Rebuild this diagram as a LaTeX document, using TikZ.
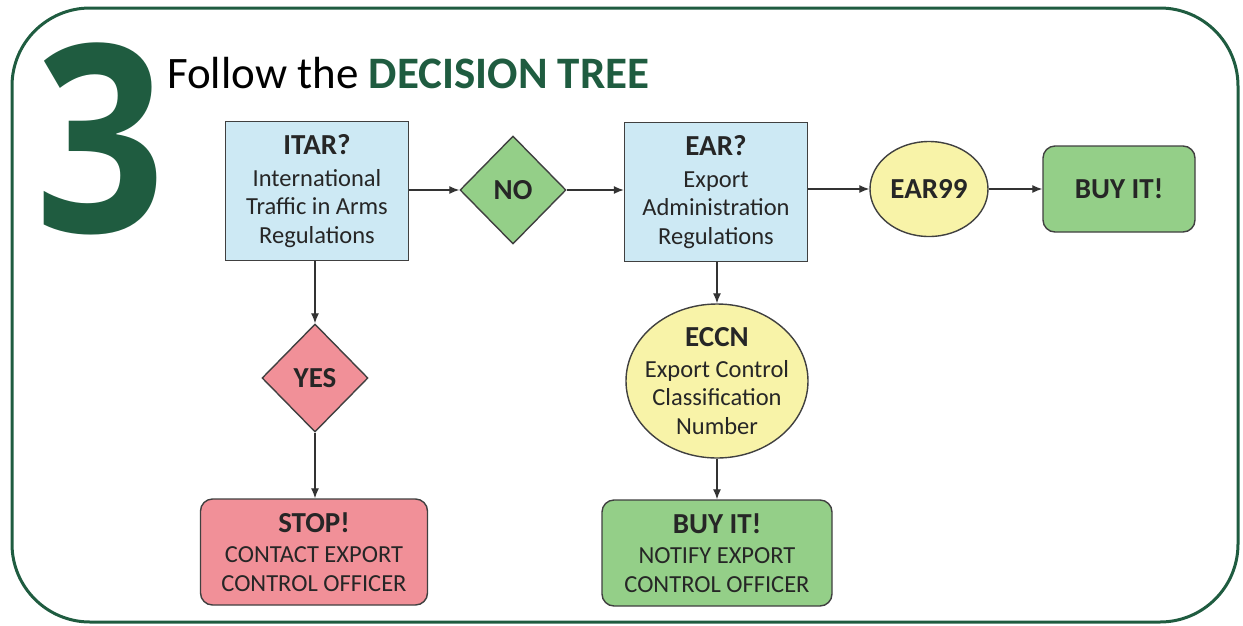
\documentclass[tikz,border=0pt]{standalone}
\usepackage{fontspec}
\setmainfont{Carlito}
\newfontfamily\bigfont{Open Sans}
\usetikzlibrary{shapes.geometric,arrows.meta}
\definecolor{dkgreen}{HTML}{1F5C40}
\definecolor{lblue}{HTML}{CDE9F4}
\definecolor{lgreen}{HTML}{94CF88}
\definecolor{lyellow}{HTML}{F8F3A8}
\definecolor{lpink}{HTML}{F19098}
\definecolor{edge}{HTML}{404040}
\tikzset{
  base/.style={draw=edge, line width=1.4pt, align=center, text=black!85, inner sep=2pt,
    font=\fontsize{24.5}{28.5}\selectfont},
  sqbox/.style={base, rectangle, fill=lblue, minimum width=183pt, minimum height=139pt},
  rbox/.style={base, rectangle, rounded corners=12pt, minimum width=227pt, minimum height=106pt},
  dia/.style={base, diamond, minimum width=106pt, minimum height=108pt, inner sep=0pt},
  circ/.style={base, ellipse, fill=lyellow, inner sep=0pt},
  conn/.style={draw=black!80, line width=1.3pt, -{Latex[length=10pt,width=8pt]}},
}
\newcommand{\hd}[1]{{\fontsize{29}{29}\selectfont\bfseries #1}}
\begin{document}
\begin{tikzpicture}[x=1pt,y=-1pt]
\useasboundingbox (0,0) rectangle (1243,625);
\draw[dkgreen, line width=3pt, rounded corners=78pt] (12,8) rectangle (1238,622);
\node[text=dkgreen, font=\bigfont\fontsize{262}{262}\selectfont\bfseries, inner sep=0pt, anchor=base, xscale=0.87] (three) at (100.5,232) {3};
\node[anchor=base west, inner sep=0pt, font=\fontsize{45}{45}\selectfont] (title) at (167,88) {Follow the \textcolor{dkgreen}{\bfseries DECISION TREE}};

\node[sqbox] (itar) at (317,191) {\hd{ITAR?}\\[3pt]International\\Traffic in Arms\\Regulations};
\node[dia, fill=lgreen] (no) at (513,190) {\hd{NO}};
\node[sqbox] (ear) at (716,192) {\hd{EAR?}\\[3pt]Export\\Administration\\Regulations};
\node[circ, minimum width=118pt, minimum height=95pt] (ear99) at (929,189) {\hd{EAR99}};
\node[base, rectangle, rounded corners=12pt, fill=lgreen, minimum width=152pt, minimum height=86pt] (buy1) at (1119,189) {\hd{BUY IT!}};
\node[dia, fill=lpink] (yes) at (315,378) {\hd{YES}};
\node[rbox, fill=lpink] (stop) at (314,552) {\hd{STOP!}\\[2pt]CONTACT EXPORT\\CONTROL OFFICER};
\node[circ, inner sep=-9pt, minimum width=182pt, minimum height=154pt] (eccn) at (717,381) {\hd{ECCN}\\[2pt]Export Control\\Classification\\Number};
\node[rbox, fill=lgreen, minimum width=230pt] (buy2) at (717,553) {\hd{BUY IT!}\\[2pt]NOTIFY EXPORT\\CONTROL OFFICER};

\draw[conn] (itar.east |- no.west) -- (no.west);
\draw[conn] (no.east) -- (ear.west |- no.east);
\draw[conn] (ear.east |- ear99.west) -- (ear99.west);
\draw[conn] (ear99.east) -- (buy1.west |- ear99.east);
\draw[conn] (itar.south -| yes.north) -- (yes.north);
\draw[conn] (yes.south) -- (stop.north -| yes.south);
\draw[conn] (ear.south -| eccn.north) -- (eccn.north);
\draw[conn] (eccn.south) -- (buy2.north -| eccn.south);
\end{tikzpicture}
\end{document}
